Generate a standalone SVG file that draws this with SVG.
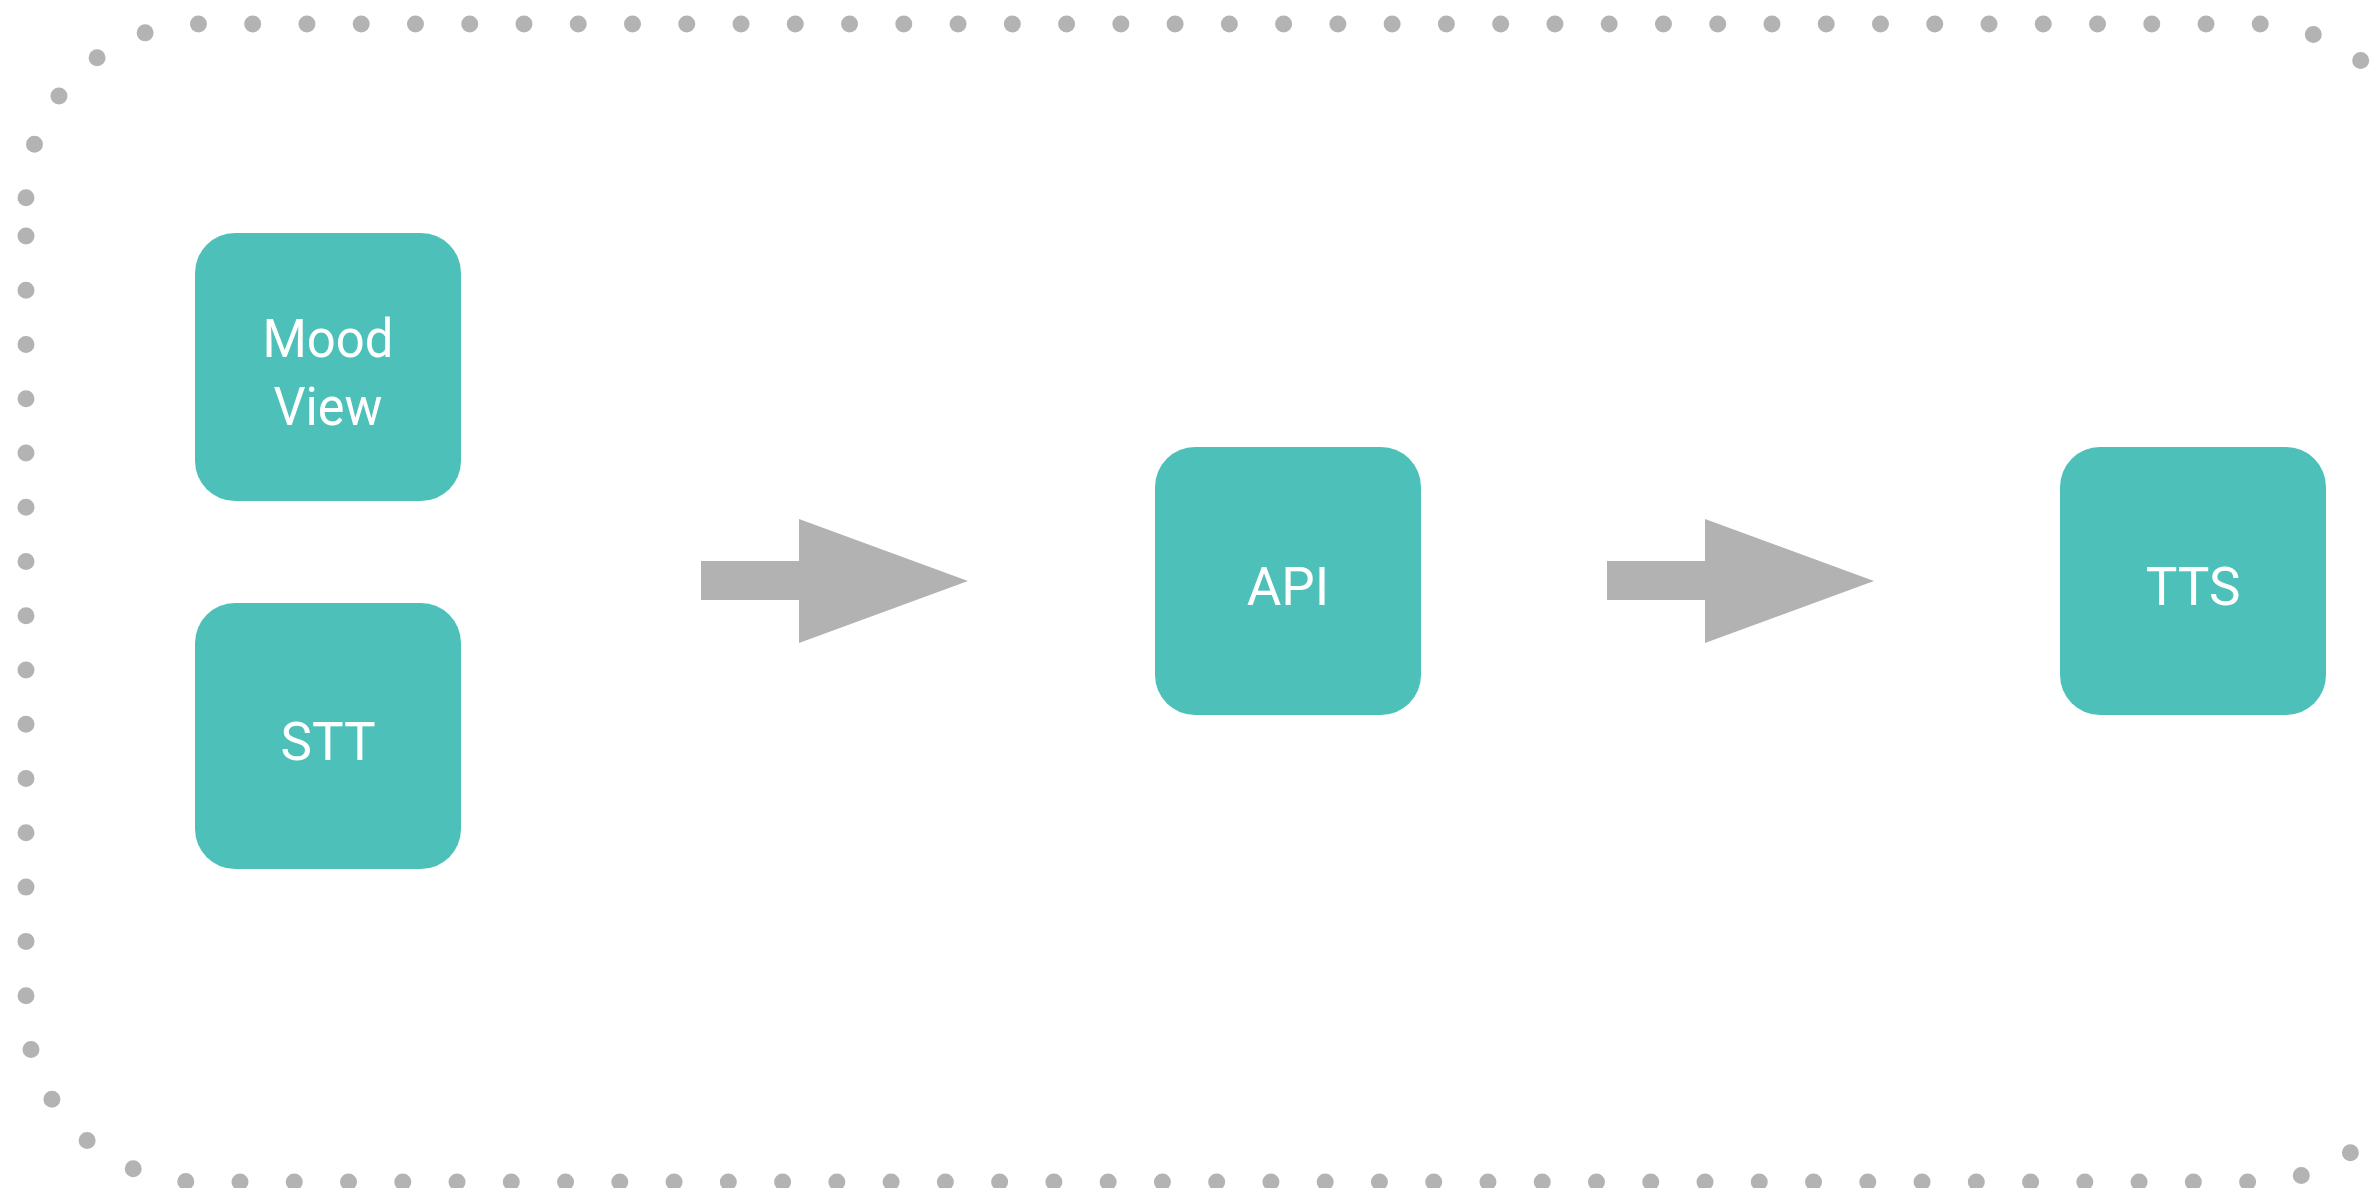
<svg xmlns="http://www.w3.org/2000/svg" width="2375" height="1188" viewBox="0 0 2375 1188">
<style>
.node{fill:#4dc1b9}
.lbl{fill:#ffffff;font-family:Roboto,"Liberation Sans",Arial,sans-serif;font-size:53px;text-anchor:middle}
.arrow{fill:#b2b2b2}
.border{fill:none;stroke:#b3b3b3;stroke-width:17;stroke-linecap:round;stroke-dasharray:0 54.26}
</style>
<rect width="2375" height="1188" fill="#ffffff"/>
<path class="border" d="M26,236 V1008 A174,174 0 0 0 200,1182 H2254 A174,174 0 0 0 2428,1008 V198 A174,174 0 0 0 2254,24 H200 A174,174 0 0 0 26,198 V236"/>
<g id="connectors">
<polygon class="arrow" points="701,561 799,561 799,519 968,581 799,643 799,600 701,600"/>
<polygon class="arrow" points="1607,561 1705,561 1705,519 1874,581 1705,643 1705,600 1607,600"/>
</g>
<g id="mood-view">
<rect class="node" x="195" y="233" width="266" height="268" rx="40"/>
<text class="lbl" x="328" y="357" textLength="131" lengthAdjust="spacingAndGlyphs">Mood</text>
<text class="lbl" x="328" y="425" textLength="109" lengthAdjust="spacingAndGlyphs">View</text>
</g>
<g id="stt">
<rect class="node" x="195" y="603" width="266" height="266" rx="40"/>
<text class="lbl" x="328" y="760">STT</text>
</g>
<g id="api">
<rect class="node" x="1155" y="447" width="266" height="268" rx="40"/>
<text class="lbl" x="1288" y="605">API</text>
</g>
<g id="tts">
<rect class="node" x="2060" y="447" width="266" height="268" rx="40"/>
<text class="lbl" x="2193" y="605">TTS</text>
</g>
</svg>
